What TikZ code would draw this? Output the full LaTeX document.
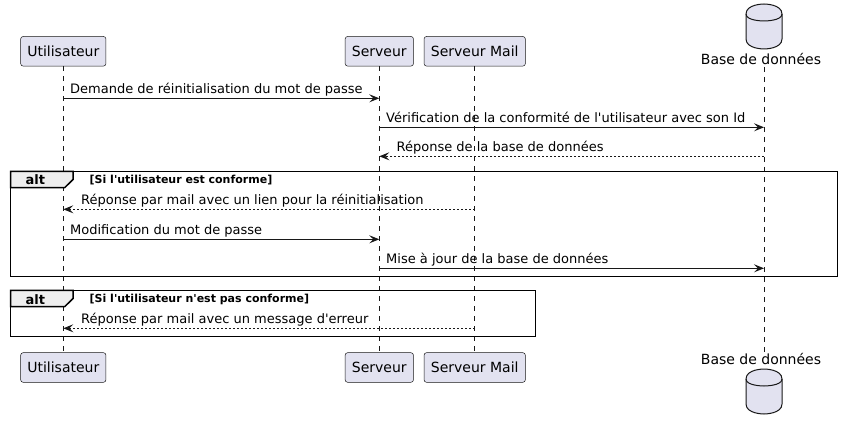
\documentclass[tikz,border=0pt]{standalone}
\usepackage{fontspec}
\setmainfont{DejaVu Sans}
\usetikzlibrary{arrows.meta}
\newcommand{\apos}{\XeTeXglyph\XeTeXcharglyph"0027\relax}
\definecolor{partfill}{HTML}{E2E2F0}
\definecolor{partline}{HTML}{181818}
\definecolor{tabfill}{HTML}{EEEEEE}
\tikzset{
  part/.style={draw=partline, line width=0.5pt, fill=partfill, rounded corners=2.5pt,
    inner sep=0pt, minimum height=29.6pt, font=\fontsize{14}{16}\selectfont},
  lifeline/.style={draw=partline, line width=0.5pt, dash pattern=on 5pt off 5pt},
  msg/.style={draw=partline, line width=1pt, -{Stealth[length=10pt,width=8pt,inset=4pt]}},
  reply/.style={msg, dash pattern=on 2pt off 2pt},
  msgtxt/.style={anchor=base west, inner sep=0pt, font=\fontsize{13}{15}\selectfont},
  frameline/.style={draw=black, line width=1.5pt},
  tabtxt/.style={anchor=base west, inner sep=0pt, font=\fontsize{13}{15}\selectfont\bfseries},
  condtxt/.style={anchor=base west, inner sep=0pt, font=\fontsize{11}{13}\selectfont\bfseries},
  dblabel/.style={anchor=base, inner sep=0pt, font=\fontsize{14}{16}\selectfont},
  dbshape/.style={draw=partline, line width=1pt, fill=partfill}
}
\newcommand{\dbcyl}[2]{% #1 = centre x, #2 = top y
  \path[dbshape] (#1-18,#2+10) .. controls (#1-18,#2) and (#1,#2) .. (#1,#2)
    .. controls (#1,#2) and (#1+18,#2) .. (#1+18,#2+10)
    -- (#1+18,#2+35) .. controls (#1+18,#2+45) and (#1,#2+45) .. (#1,#2+45)
    .. controls (#1,#2+45) and (#1-18,#2+45) .. (#1-18,#2+35) -- cycle;
  \draw[draw=partline, line width=1pt] (#1-18,#2+10) .. controls (#1-18,#2+17) and (#1,#2+17) .. (#1,#2+17)
    .. controls (#1,#2+17) and (#1+18,#2+17) .. (#1+18,#2+10);
}
\begin{document}
\begin{tikzpicture}[x=1pt,y=-1pt]
\useasboundingbox (0,0) rectangle (842,430);

% participants (top)
\node[part, minimum width=85.3pt] (uTop) at (63.3,51.3) {Utilisateur};
\node[part, minimum width=68.3pt] (sTop) at (379.3,51.3) {Serveur};
\node[part, minimum width=101.3pt] (mTop) at (474.7,51.3) {Serveur Mail};
\dbcyl{764}{4}
\node[dblabel] (dTop) at (761,64.3) {Base de données};
\coordinate (dTopEnd) at (764,67);

% participants (bottom)
\node[part, minimum width=85.3pt] (uBot) at (63.3,367.5) {Utilisateur};
\node[part, minimum width=68.3pt] (sBot) at (379.3,367.5) {Serveur};
\node[part, minimum width=101.3pt] (mBot) at (474.7,367.5) {Serveur Mail};
\node[dblabel] (dBot) at (761,364.5) {Base de données};
\coordinate (dBotEnd) at (764,352.7);
\dbcyl{764}{369}

% lifelines
\draw[lifeline] (uTop.south) -- (uBot.north);
\draw[lifeline] (sTop.south) -- (sBot.north);
\draw[lifeline] (mTop.south) -- (mBot.north);
\draw[lifeline] (dTopEnd) -- (dBotEnd);

% message levels
\coordinate (y1) at (0,98.3);
\coordinate (y2) at (0,127.3);
\coordinate (y3) at (0,156.3);
\coordinate (y4) at (0,209.3);
\coordinate (y5) at (0,239.3);
\coordinate (y6) at (0,268.3);
\coordinate (y7) at (0,328.3);

% alt frames
\draw[frameline] (10.7,171.3) rectangle (837.3,276.3);
\filldraw[frameline, fill=tabfill] (10.7,171.3) -- (73,171.3) -- (73,179.5) -- (64.7,187.7) -- (10.7,187.7) -- cycle;
\node[tabtxt] (alt1) at (25.5,185) {alt};
\node[condtxt] (c1) at (89.5,183.5) {[Si l\apos utilisateur est conforme]};

\draw[frameline] (10.7,290.3) rectangle (535.3,336.3);
\filldraw[frameline, fill=tabfill] (10.7,290.3) -- (73,290.3) -- (73,298.5) -- (64.7,306.7) -- (10.7,306.7) -- cycle;
\node[tabtxt] (alt2) at (25.5,304) {alt};
\node[condtxt] (c2) at (89.5,302.5) {[Si l\apos utilisateur n\apos est pas conforme]};

% messages
\draw[msg] (uTop.south |- y1) -- (sTop.south |- y1);
\node[msgtxt] (t1) at (70,93.3) {Demande de réinitialisation du mot de passe};

\draw[msg] (sTop.south |- y2) -- (dTopEnd |- y2);
\node[msgtxt] (t2) at (386,122.3) {Vérification de la conformité de l\apos utilisateur avec son Id};

\draw[reply] (dTopEnd |- y3) -- (sTop.south |- y3);
\node[msgtxt] (t3) at (396.5,151.3) {Réponse de la base de données};

\draw[reply] (mTop.south |- y4) -- (uTop.south |- y4);
\node[msgtxt] (t4) at (81,204.3) {Réponse par mail avec un lien pour la réinitialisation};

\draw[msg] (uTop.south |- y5) -- (sTop.south |- y5);
\node[msgtxt] (t5) at (70,234.3) {Modification du mot de passe};

\draw[msg] (sTop.south |- y6) -- (dTopEnd |- y6);
\node[msgtxt] (t6) at (386,263.3) {Mise à jour de la base de données};

\draw[reply] (mTop.south |- y7) -- (uTop.south |- y7);
\node[msgtxt] (t7) at (81,323.3) {Réponse par mail avec un message d\apos erreur};
\end{tikzpicture}
\end{document}
